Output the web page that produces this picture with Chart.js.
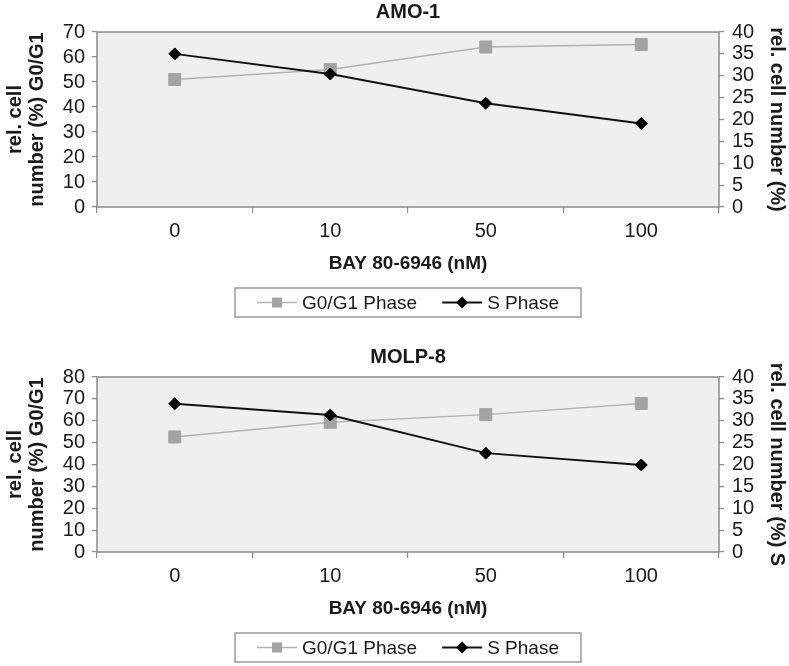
<!DOCTYPE html>
<html>
<head>
<meta charset="utf-8">
<script src="https://cdn.jsdelivr.net/npm/chart.js@4.4.1/dist/chart.umd.min.js"></script>
<style>
  body { margin: 0; background: #fff; }
  .panel { position: absolute; left: 0; width: 789px; height: 320px; }
  #panelTop { top: 0; }
  #panelBottom { top: 345px; }
</style>
</head>
<body>
<div class="panel" id="panelTop"><canvas id="amoChart" width="789" height="320"></canvas></div>
<div class="panel" id="panelBottom"><canvas id="molpChart" width="789" height="320"></canvas></div>
<script>
// data
const doses = ["0", "10", "50", "100"];
const seriesNames = ["G0/G1 Phase", "S Phase"];

const amoG0G1 = [51, 55, 64, 65];
const amoS = [35, 30.4, 23.7, 19.1];

const molpG0G1 = [52.6, 59.3, 62.8, 67.9];
const molpS = [33.9, 31.3, 22.6, 19.9];

const xTitle = "BAY 80-6946 (nM)";
const FONT = '"Liberation Sans", Arial, sans-serif';

// gray plot background + frame
const plotFrame = {
  id: "plotFrame",
  beforeDraw(chart) {
    const { ctx, chartArea: a } = chart;
    ctx.save();
    ctx.fillStyle = "#efefef";
    ctx.fillRect(a.left, a.top, a.right - a.left, a.bottom - a.top);
    ctx.restore();
  },
  beforeDatasetsDraw(chart) {
    const { ctx, chartArea: a } = chart;
    ctx.save();
    ctx.strokeStyle = "#8a8a8a";
    ctx.lineWidth = 1.5;
    ctx.strokeRect(a.left, a.top, a.right - a.left, a.bottom - a.top);
    ctx.restore();
  },
};

// boxed legend under the x axis title
const legendBox = {
  id: "legendBox",
  afterDraw(chart) {
    const { ctx, chartArea: a } = chart;
    const sets = chart.data.datasets;
    ctx.save();
    ctx.font = "19px " + FONT;
    const lineLen = 40, gap = 5, itemGap = 25, padX = 22;
    const widths = sets.map((d) => ctx.measureText(d.label).width);
    let total = itemGap * (sets.length - 1);
    widths.forEach((w) => (total += lineLen + gap + w));
    const boxW = total + padX * 2, boxH = 29;
    const x0 = (a.left + a.right) / 2 - boxW / 2;
    const y0 = 288;
    ctx.fillStyle = "#fff";
    ctx.fillRect(x0, y0, boxW, boxH);
    ctx.strokeStyle = "#9a9a9a";
    ctx.lineWidth = 1.5;
    ctx.strokeRect(x0, y0, boxW, boxH);

    const cy = y0 + boxH / 2;
    let x = x0 + padX;
    sets.forEach((d, i) => {
      ctx.strokeStyle = d.borderColor;
      ctx.lineWidth = d.borderWidth;
      ctx.beginPath();
      ctx.moveTo(x, cy);
      ctx.lineTo(x + lineLen, cy);
      ctx.stroke();
      const mx = x + lineLen / 2;
      ctx.fillStyle = d.pointBackgroundColor;
      if (d.pointStyle === "rect") {
        ctx.fillRect(mx - 5, cy - 5, 10, 10);
      } else {
        ctx.beginPath();
        ctx.moveTo(mx - 6, cy);
        ctx.lineTo(mx, cy - 6);
        ctx.lineTo(mx + 6, cy);
        ctx.lineTo(mx, cy + 6);
        ctx.closePath();
        ctx.fill();
      }
      ctx.fillStyle = "#1a1a1a";
      ctx.textBaseline = "middle";
      ctx.textAlign = "left";
      ctx.fillText(d.label, x + lineLen + gap, cy + 1);
      x += lineLen + gap + widths[i] + itemGap;
    });
    ctx.restore();
  },
};

function makeChart(canvasId, title, g0Data, sData, leftMax, leftTitle, rightTitle) {
  const ctx = document.getElementById(canvasId).getContext("2d");
  const tickGrid = {
    drawOnChartArea: false,
    drawTicks: true,
    tickLength: 5,
    color: "#8a8a8a",
    lineWidth: 1.2,
  };
  const tickFont = { family: FONT, size: 20, lineHeight: 1 };
  return new Chart(ctx, {
    type: "line",
    data: {
      labels: doses,
      datasets: [
        {
          label: seriesNames[0],
          data: g0Data,
          yAxisID: "y",
          order: 1,
          borderColor: "#b2b2b2",
          borderWidth: 1.5,
          pointStyle: "rect",
          pointRadius: 8.5,
          pointBackgroundColor: "#a3a3a3",
          pointBorderColor: "#a3a3a3",
          pointBorderWidth: 1,
        },
        {
          label: seriesNames[1],
          data: sData,
          yAxisID: "y1",
          order: 0,
          borderColor: "#111111",
          borderWidth: 2,
          pointStyle: "rectRot",
          pointRadius: 6,
          pointBackgroundColor: "#000000",
          pointBorderColor: "#000000",
          pointBorderWidth: 1,
        },
      ],
    },
    options: {
      responsive: false,
      animation: false,
      layout: { padding: { top: 0, left: 0, right: 0, bottom: 45 } },
      scales: {
        x: {
          type: "category",
          offset: true,
          grid: { ...tickGrid, offset: true, tickLength: 6 },
          border: { display: false },
          ticks: { padding: 6, color: "#1a1a1a", font: { family: FONT, size: 20, lineHeight: 1.2 } },
          title: {
            display: true,
            text: xTitle,
            color: "#1a1a1a",
            padding: { top: 0, bottom: 0 },
            font: { family: FONT, size: 19, weight: "bold", lineHeight: 1.2 },
          },
          afterFit(scale) { scale.height = 68; },
        },
        y: {
          position: "left",
          min: 0,
          max: leftMax,
          grid: tickGrid,
          border: { display: false },
          ticks: { stepSize: 10, autoSkip: false, padding: 7, color: "#1a1a1a", font: tickFont },
          title: {
            display: true,
            text: leftTitle,
            color: "#1a1a1a",
            padding: { top: 4, bottom: 0 },
            font: { family: FONT, size: 20, weight: "bold", lineHeight: 1.1 },
          },
          afterFit(scale) { scale.width = 97; },
        },
        y1: {
          position: "right",
          min: 0,
          max: 40,
          grid: tickGrid,
          border: { display: false },
          ticks: { stepSize: 5, autoSkip: false, padding: 8, color: "#1a1a1a", font: tickFont },
          title: {
            display: true,
            text: rightTitle,
            color: "#1a1a1a",
            padding: { top: 1, bottom: 0 },
            font: { family: FONT, size: 20, weight: "bold", lineHeight: 1.1 },
          },
          afterFit(scale) { scale.width = 70; },
        },
      },
      plugins: {
        legend: { display: false },
        tooltip: { enabled: false },
        title: {
          display: true,
          text: title,
          fullSize: false,
          color: "#1a1a1a",
          padding: { top: 0, bottom: 8 },
          font: { family: FONT, size: 20, weight: "bold", lineHeight: 1.2 },
        },
      },
    },
    plugins: [plotFrame, legendBox],
  });
}

makeChart("amoChart", "AMO-1", amoG0G1, amoS, 70,
  ["rel. cell", "number (%) G0/G1"], "rel. cell number (%)");
makeChart("molpChart", "MOLP-8", molpG0G1, molpS, 80,
  ["rel. cell", "number (%) G0/G1"], "rel. cell number (%) S");
</script>
</body>
</html>
